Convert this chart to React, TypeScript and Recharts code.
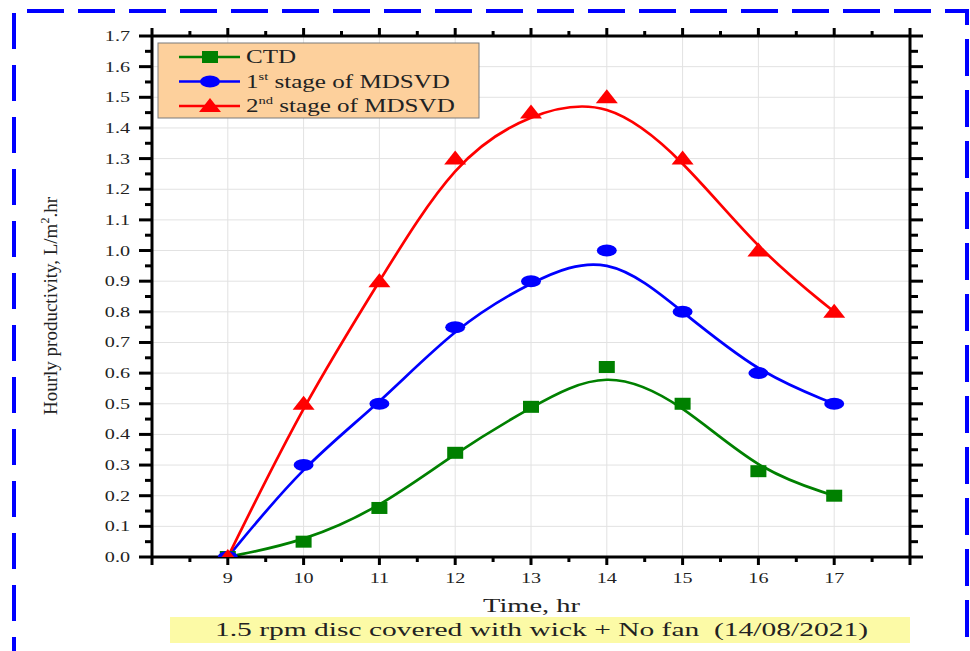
import React from "react";
import { ComposedChart, Line, ReferenceLine, XAxis, YAxis } from "recharts";

// hours of the day
const hours = [9, 10, 11, 12, 13, 14, 15, 16, 17];
// hourly productivity, L/m2.hr
const ctd = [0, 0.05, 0.16, 0.34, 0.49, 0.62, 0.5, 0.28, 0.2];
const stage1 = [0, 0.3, 0.5, 0.75, 0.9, 1.0, 0.8, 0.6, 0.5];
const stage2 = [0, 0.5, 0.9, 1.3, 1.45, 1.5, 1.3, 1.0, 0.8];

const xMajor = [8, 9, 10, 11, 12, 13, 14, 15, 16, 17, 18];
const xLabels = [9, 10, 11, 12, 13, 14, 15, 16, 17];
const yMajor = [0, 0.1, 0.2, 0.3, 0.4, 0.5, 0.6, 0.7, 0.8, 0.9, 1.0, 1.1, 1.2, 1.3, 1.4, 1.5, 1.6, 1.7];

const xTicks = xMajor.flatMap((v, i) => (i < xMajor.length - 1 ? [v, v + 0.5] : [v]));
const yTicks = yMajor.flatMap((v, i) => (i < yMajor.length - 1 ? [v, +(v + 0.05).toFixed(2)] : [v]));

const data = hours.map((hour, i) => ({ hour, ctd: ctd[i], s1: stage1[i], s2: stage2[i] }));

const FONT = '"Liberation Serif", "Times New Roman", serif';
const STRETCH = 1.3; // the original picture is a bit wide
const isMajorY = (v: number) => yMajor.some((m) => Math.abs(m - v) < 1e-6);
const isMajorX = (v: number) => Number.isInteger(v);

function LeftTick({ x, y, payload }: any) {
  const major = isMajorY(payload.value);
  return (
    <g>
      <line x1={x - (major ? 13 : 7)} x2={x} y1={y} y2={y} stroke="#000" strokeWidth={3} />
      {major && (
        <text
          transform={`translate(${x - 22},${y + 5}) scale(${STRETCH},1)`}
          textAnchor="end"
          fontSize={15.5}
          fontFamily={FONT}
          fill="#222"
        >
          {payload.value.toFixed(1)}
        </text>
      )}
    </g>
  );
}

function RightTick({ x, y, payload }: any) {
  const major = isMajorY(payload.value);
  return <line x1={x} x2={x + (major ? 13 : 8)} y1={y} y2={y} stroke="#000" strokeWidth={3} />;
}

function BottomTick({ x, y, payload }: any) {
  const major = isMajorX(payload.value);
  return (
    <g>
      <line x1={x} x2={x} y1={y} y2={y + (major ? 8 : 5)} stroke="#000" strokeWidth={3} />
      {xLabels.includes(payload.value) && (
        <text
          transform={`translate(${x},${y + 26}) scale(${STRETCH},1)`}
          textAnchor="middle"
          fontSize={15.5}
          fontFamily={FONT}
          fill="#222"
        >
          {payload.value}
        </text>
      )}
    </g>
  );
}

function TopTick({ x, y, payload }: any) {
  const major = isMajorX(payload.value);
  return <line x1={x} x2={x} y1={y - (major ? 8 : 5)} y2={y} stroke="#000" strokeWidth={3} />;
}

const squareDot = (props: any) => (
  <rect key={`sq-${props.index}`} x={props.cx - 8} y={props.cy - 6} width={16} height={12} fill="#008000" />
);
const circleDot = (props: any) => (
  <ellipse key={`ci-${props.index}`} cx={props.cx} cy={props.cy} rx={10} ry={6} fill="#0000ff" />
);
const triangleDot = (props: any) => (
  <polygon
    key={`tr-${props.index}`}
    points={`${props.cx - 11},${props.cy + 6} ${props.cx + 11},${props.cy + 6} ${props.cx},${props.cy - 8}`}
    fill="#ff0000"
  />
);

const legendItems = [
  { label: "CTD", sup: "", rest: "", color: "#008000", shape: "square" },
  { label: "1", sup: "st", rest: " stage of MDSVD", color: "#0000ff", shape: "circle" },
  { label: "2", sup: "nd", rest: " stage of MDSVD", color: "#ff0000", shape: "triangle" }
];

function LegendMarker({ shape, color, x, y }: { shape: string; color: string; x: number; y: number }) {
  if (shape === "square") return <rect x={x - 8} y={y - 6} width={16} height={12} fill={color} />;
  if (shape === "circle") return <ellipse cx={x} cy={y} rx={10} ry={6} fill={color} />;
  return <polygon points={`${x - 11},${y + 6} ${x + 11},${y + 6} ${x},${y - 8}`} fill={color} />;
}

export default function App() {
  return (
    <div style={{ position: "absolute", left: 0, top: 0, width: 970, height: 651, background: "#fff" }}>
      <ComposedChart width={970} height={651} data={data} margin={{ top: 26, right: 40, bottom: 64, left: 92 }}>
        {xLabels.map((v) => (
          <ReferenceLine key={`gx${v}`} x={v} xAxisId="b" yAxisId="l" stroke="#e2e2e2" strokeWidth={1} />
        ))}
        {yMajor.slice(1, -1).map((v) => (
          <ReferenceLine key={`gy${v}`} y={v} xAxisId="b" yAxisId="l" stroke="#e2e2e2" strokeWidth={1} />
        ))}
        <XAxis
          xAxisId="b"
          dataKey="hour"
          type="number"
          domain={[8, 18]}
          ticks={xTicks}
          interval={0}
          height={30}
          tickSize={0}
          tickMargin={0}
          tick={<BottomTick />}
          axisLine={{ stroke: "#000", strokeWidth: 3 }}
          allowDataOverflow
        />
        <XAxis
          xAxisId="t"
          orientation="top"
          dataKey="hour"
          type="number"
          domain={[8, 18]}
          ticks={xTicks}
          interval={0}
          height={10}
          tickSize={0}
          tickMargin={0}
          tick={<TopTick />}
          axisLine={{ stroke: "#000", strokeWidth: 3 }}
          allowDataOverflow
        />
        <YAxis
          yAxisId="l"
          type="number"
          domain={[0, 1.7]}
          ticks={yTicks}
          interval={0}
          width={60}
          tickSize={0}
          tickMargin={0}
          tick={<LeftTick />}
          axisLine={{ stroke: "#000", strokeWidth: 3 }}
          allowDataOverflow
        />
        <YAxis
          yAxisId="r"
          orientation="right"
          type="number"
          domain={[0, 1.7]}
          ticks={yTicks}
          interval={0}
          width={20}
          tickSize={0}
          tickMargin={0}
          tick={<RightTick />}
          axisLine={{ stroke: "#000", strokeWidth: 3 }}
          allowDataOverflow
        />
        <Line
          xAxisId="b"
          yAxisId="l"
          type="basis"
          dataKey="ctd"
          stroke="#008000"
          strokeWidth={2.7}
          dot={squareDot}
          isAnimationActive={false}
        />
        <Line
          xAxisId="b"
          yAxisId="l"
          type="basis"
          dataKey="s1"
          stroke="#0000ff"
          strokeWidth={2.7}
          dot={circleDot}
          isAnimationActive={false}
        />
        <Line
          xAxisId="b"
          yAxisId="l"
          type="basis"
          dataKey="s2"
          stroke="#ff0000"
          strokeWidth={2.7}
          dot={triangleDot}
          isAnimationActive={false}
        />
      </ComposedChart>

      <svg
        width={970}
        height={651}
        style={{ position: "absolute", left: 0, top: 0, pointerEvents: "none" }}
        fontFamily={FONT}
      >
        {/* dashed frame */}
        <line x1={27} x2={968} y1={11} y2={11} stroke="#0000ff" strokeWidth={4} strokeDasharray="37 14" />
        <line x1={14} x2={14} y1={13} y2={651} stroke="#0000ff" strokeWidth={4} strokeDasharray="36 16" />
        <line
          x1={967}
          x2={967}
          y1={9}
          y2={651}
          stroke="#0000ff"
          strokeWidth={4}
          strokeDasharray="16 14 37 14 37 14 37 14 37 14 37 14 37 14 37 14 37 14 37 14 37 14 37 14 37 14"
        />

        {/* legend */}
        <rect x={158} y={43} width={321} height={75} fill="#fdd09c" stroke="#7a7a7a" strokeWidth={1} />
        {legendItems.map((item, i) => {
          const y = 57 + i * 24.5;
          return (
            <g key={item.label + i}>
              <line x1={179} x2={240} y1={y} y2={y} stroke={item.color} strokeWidth={2.7} />
              <LegendMarker shape={item.shape} color={item.color} x={210} y={y} />
              <text transform={`translate(246,${y + 6}) scale(1.32,1)`} fontSize={19} fill="#222">
                {item.label}
                {item.sup && (
                  <tspan dy={-8} fontSize={11}>
                    {item.sup}
                  </tspan>
                )}
                {item.rest && <tspan dy={8}>{item.rest}</tspan>}
              </text>
            </g>
          );
        })}

        {/* axis titles */}
        <text transform="translate(57,306) rotate(-90)" textAnchor="middle" fontSize={19} fill="#222">
          Hourly productivity, L/m
          <tspan dy={-8} fontSize={12}>
            2
          </tspan>
          <tspan dy={8}>.hr</tspan>
        </text>
        <text
          x={483}
          y={612}
          fontSize={19}
          fill="#222"
          textLength={97}
          lengthAdjust="spacingAndGlyphs"
        >
          Time, hr
        </text>

        {/* caption */}
        <rect x={170} y={617} width={740} height={26} fill="#fcfaa6" />
        <text
          x={215}
          y={636}
          fontSize={19}
          fill="#222"
          textLength={653}
          lengthAdjust="spacingAndGlyphs"
          style={{ whiteSpace: "pre" }}
        >
          {"1.5 rpm disc covered with wick + No fan  (14/08/2021)"}
        </text>
      </svg>
    </div>
  );
}
